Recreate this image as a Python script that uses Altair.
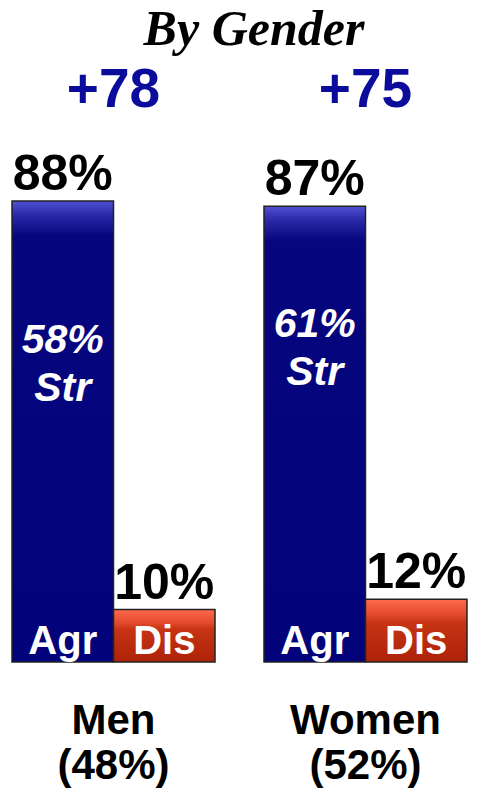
import altair as alt
import pandas as pd

title_text = ["By Gender"]
groups = ["Men", "Women"]
shares = ["(48%)", "(52%)"]
agree = [88, 87]
disagree = [10, 12]
strong = [58, 61]
series = ["Agr", "Dis"]

rows = []
for g, s, a, d, st in zip(groups, shares, agree, disagree, strong):
    cat = f"{g}|{s}"
    rows.append({"cat": cat, "series": "Agr", "value": a, "vlabel": f"{a}%",
                 "strong": st, "slabel": f"{st}%|Str"})
    rows.append({"cat": cat, "series": "Dis", "value": d, "vlabel": f"{d}%",
                 "strong": None, "slabel": None})
df = pd.DataFrame(rows)

net_df = pd.DataFrame({
    "cat": [f"{g}|{s}" for g, s in zip(groups, shares)],
    "net": [f"+{a - d}" for a, d in zip(agree, disagree)],
})
title_df = pd.DataFrame({"t": title_text})

SANS = "Liberation Sans"

x_enc = alt.X(
    "cat:N",
    sort=None,
    scale=alt.Scale(paddingInner=0.1944, paddingOuter=0.0159),
    axis=alt.Axis(
        title=None, domain=False, ticks=False, labelAngle=0,
        labelExpr="split(datum.label, '|')",
        labelFont=SANS, labelFontSize=42, labelFontWeight="bold",
        labelColor="black", labelLineHeight=45, labelPadding=71,
        labelBaseline="alphabetic",
    ),
)
xoff = alt.XOffset("series:N", scale=alt.Scale(domain=series, paddingInner=0, paddingOuter=0))
y_scale = alt.Scale(domain=[0, 113.4])

agr_fill = alt.Gradient(
    gradient="linear", x1=0, x2=0, y1=0, y2=1,
    stops=[
        alt.GradientStop(offset=0, color="#5050d2"),
        alt.GradientStop(offset=0.03, color="#2a2aa8"),
        alt.GradientStop(offset=0.075, color="#06067f"),
        alt.GradientStop(offset=1, color="#02027a"),
    ],
)
dis_fill = alt.Gradient(
    gradient="linear", x1=0, x2=0, y1=0, y2=1,
    stops=[
        alt.GradientStop(offset=0, color="#ff6b4d"),
        alt.GradientStop(offset=0.25, color="#e24a2c"),
        alt.GradientStop(offset=0.38, color="#c63414"),
        alt.GradientStop(offset=1, color="#ad2208"),
    ],
)

base = alt.Chart(df)

bars_agr = base.transform_filter(alt.datum.series == "Agr").mark_bar(
    fill=agr_fill, stroke="#222222", strokeWidth=1.5
).encode(x=x_enc, xOffset=xoff, y=alt.Y("value:Q", scale=y_scale, axis=None))

bars_dis = base.transform_filter(alt.datum.series == "Dis").mark_bar(
    fill=dis_fill, stroke="#222222", strokeWidth=1.5
).encode(x=x_enc, xOffset=xoff, y=alt.Y("value:Q", scale=y_scale, axis=None))

value_labels = base.mark_text(
    font=SANS, fontSize=50, fontWeight="bold", color="black",
    baseline="alphabetic", dy=-11,
).encode(x=x_enc, xOffset=xoff, y=alt.Y("value:Q", scale=y_scale, axis=None), text="vlabel:N")

series_labels = base.transform_calculate(datum_zero="0").mark_text(
    font=SANS, fontSize=40, fontWeight="bold", color="white",
    baseline="alphabetic", dy=-8,
).encode(x=x_enc, xOffset=xoff, y=alt.Y("datum_zero:Q", scale=y_scale, axis=None),
         text="series:N")

str_labels = base.transform_filter(alt.datum.series == "Agr").mark_text(
    font=SANS, fontSize=41, fontWeight="bold", fontStyle="italic", color="white",
    baseline="alphabetic", lineBreak="|", lineHeight=48, dy=-5,
).encode(x=x_enc, xOffset=xoff, y=alt.Y("strong:Q", scale=y_scale, axis=None), text="slabel:N")

net_labels = alt.Chart(net_df).mark_text(
    font=SANS, fontSize=55, fontWeight="bold", color="#0c0c9c",
    baseline="alphabetic",
).encode(x=x_enc, y=alt.value(39), text="net:N")

title_mark = alt.Chart(title_df).mark_text(
    font="Liberation Serif", fontSize=50, fontStyle="italic", fontWeight="bold",
    color="black", baseline="alphabetic", align="center",
).encode(x=alt.value(246), y=alt.value(-23), text="t:N")

chart = alt.layer(
    bars_agr, bars_dis, value_labels, series_labels, str_labels, net_labels, title_mark
).properties(
    width=463,
    height=594,
    autosize=alt.AutoSizeParams(type="none"),
    padding={"left": 0, "top": 60, "right": 0, "bottom": 126},
).configure_view(stroke=None)

chart.save("out.html", embed_options={"renderer": "svg", "actions": False})
